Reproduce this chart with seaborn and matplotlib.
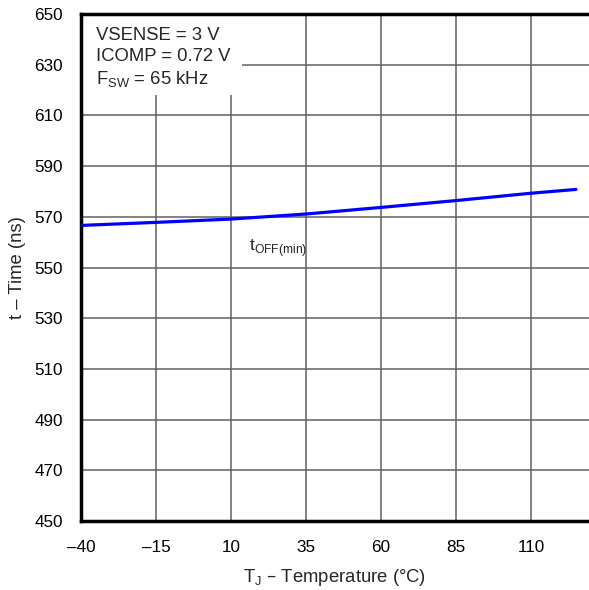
import pandas as pd
import numpy as np
import matplotlib
matplotlib.use('Agg')
import matplotlib.pyplot as plt
from matplotlib.patches import Rectangle
import seaborn as sns

# -----------------------------
# Data
# -----------------------------
temp_c = [-40, -15, 10, 35, 60, 85, 110, 125]
t_off_ns = [566.6, 567.8, 569.1, 571.1, 573.7, 576.4, 579.3, 580.8]

x_ticks = [-40, -15, 10, 35, 60, 85, 110]
y_ticks = list(range(450, 651, 20))

df = pd.DataFrame({'Temperature': temp_c, 'Time': t_off_ns})

# -----------------------------
# Style
# -----------------------------
sns.set_style('white')
plt.rcParams['font.family'] = ['Liberation Sans', 'DejaVu Sans']

fig = plt.figure(figsize=(5.89, 5.90), dpi=100)
# axes run to the right edge of the figure, so the right spine falls off the picture
ax = fig.add_axes([81 / 589, 1 - 521 / 590, 508 / 589, (521 - 14) / 590])

sns.lineplot(data=df, x='Temperature', y='Time', color='#0000ff', linewidth=2.3, ax=ax, zorder=3)

ax.set_xlim(-40, 129.33)
ax.set_ylim(450, 650)
ax.set_xticks(x_ticks)
ax.set_xticklabels([str(v).replace('-', '\u2013') for v in x_ticks])
ax.set_yticks(y_ticks)

ax.grid(True, color='#606060', linewidth=1.1)
ax.set_axisbelow(True)
for side in ['left', 'bottom', 'top']:
    ax.spines[side].set_color('black')
    ax.spines[side].set_linewidth(2.5)
ax.spines['right'].set_visible(False)

ax.tick_params(axis='x', labelsize=12.3, length=0, pad=14, colors='black')
ax.tick_params(axis='y', labelsize=12.3, length=0, pad=13, colors='black')
ax.set_xlabel('T$_\\mathregular{J}$ \u2013 Temperature (\u00b0C)', fontsize=13.3, labelpad=8)
ax.set_ylabel('t \u2013 Time (ns)', fontsize=13.3, labelpad=6)

# condition box in the upper left (white patch hides the grid)
ax.add_patch(Rectangle((-40, 618), 53.7, 32, facecolor='white', edgecolor='none', zorder=2))
ax.text(-35, 645, 'VSENSE = 3 V\nICOMP = 0.72 V\nF$_\\mathregular{SW}$ = 65 kHz',
        fontsize=13.3, va='top', ha='left', linespacing=1.3, zorder=4)

ax.text(16, 562, 't$_\\mathregular{OFF(min)}$', fontsize=12.5, va='top', ha='left', zorder=4)

plt.savefig('out.png', dpi=100)
